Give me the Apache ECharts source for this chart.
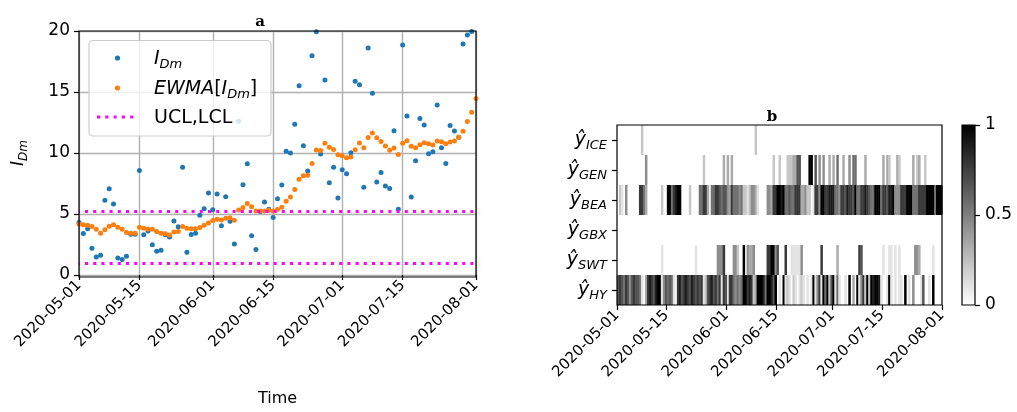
<!DOCTYPE html>
<html>
<head>
<meta charset="utf-8">
<script src="https://cdn.jsdelivr.net/npm/echarts@6/dist/echarts.min.js"></script>
<style>
    html, body { margin: 0; padding: 0; background: #fff; }
    #main { width: 1017px; height: 412px; }
</style>
</head>
<body>
<div id="main"></div>
<script>
// daily values from 2020-05-01 up to 2020-08-01
let startDate = [2020, 4, 1];

let idm = [
    4.3, 3.4, 3.8, 2.2, 1.48, 1.62, 6.12, 7.06, 5.82, 1.4,
    1.27, 1.54, 3.35, 3.35, 8.57, 3.3, 3.6, 2.48, 1.94, 2.02,
    3.3, 3.12, 4.43, 3.95, 8.84, 1.87, 3.32, 3.43, 4.9, 5.43,
    6.72, 5.35, 6.64, 4.03, 6.41, 4.4, 2.54, 12.6, 7.4, 9.12,
    3.22, 2.1, 5.2, 5.98, 5.38, 4.72, 6.25, 7.38, 10.14, 10.0,
    12.35, 15.52, 10.6, 8.52, 17.97, 19.94, 9.92, 15.99, 7.56, 8.84,
    6.31, 8.63, 8.3, 10.03, 15.88, 15.6, 7.2, 18.6, 14.9, 7.62,
    8.4, 7.3, 7.1, 11.82, 5.38, 18.86, 13.03, 6.4, 9.36, 12.82,
    12.3, 9.93, 10.1, 13.93, 10.44, 9.14, 12.25, 11.8, 11.3, 18.94,
    19.67, 19.95, 24
];

let ewma = [
    4.19, 4.11, 4.08, 3.97, 3.76, 3.43, 3.70, 4.0, 4.11, 3.92,
    3.76, 3.49, 3.43, 3.43, 3.92, 3.84, 3.78, 3.76, 3.57, 3.43,
    3.38, 3.27, 3.52, 3.57, 3.97, 3.84, 3.79, 3.79, 3.9, 4.08,
    4.27, 4.46, 4.57, 4.51, 4.65, 4.7, 4.49, 5.32, 5.54, 5.87,
    5.6, 5.25, 5.25, 5.25, 5.3, 5.25, 5.37, 5.56, 6.04, 6.4,
    7.0, 7.85, 8.14, 8.17, 9.14, 10.25, 10.2, 10.8, 10.48, 10.28,
    9.86, 9.77, 9.62, 9.67, 10.27, 10.81, 10.44, 11.28, 11.63, 11.25,
    10.94, 10.58, 10.22, 10.4, 9.88, 10.8, 11.0, 10.55, 10.43, 10.67,
    10.84, 10.75, 10.66, 10.98, 10.93, 10.76, 10.9, 10.98, 11.3, 11.79,
    12.58, 13.34, 14.47
];

let ucl = 5.19;
let lcl = 0.95;

let tickDates = ['2020-05-01', '2020-05-15', '2020-06-01', '2020-06-15', '2020-07-01', '2020-07-15', '2020-08-01'];
let yTicks = [0, 5, 10, 15, 20];
let barTicks = [0, 0.5, 1];

// heatmap rows, top to bottom; each char is one time slot, 0 = white .. 9 = black
let rowNames = ['ICE', 'GEN', 'BEA', 'GBX', 'SWT', 'HY'];
let rowICE = '0000000000 0020000000 0000000000 0000000000 0000000000 0000000000 0000000002 0000000000 0000000000 0000000000 0000000000 0000000000 0000000000 0000000000 0000000000 0000000000 000';
let rowGEN = '0000000000 0000400000 0000000000 0000000000 0002000000 0003030300 0000000000 0000000020 0200022233 6600009906 0404003030 5003004055 0000300000 0003032000 3200000030 2300200000 000';
let rowBEA = '0210400000 0775300000 0020099578 9900002000 0557730557 7656643755 5452212443 1000044377 9989556557 7733422017 7499778885 5477687769 5577876559 9957768894 4477799955 5777799995 999';
let rowGBX = '0000000000 0000000000 0000000000 0000000000 0000000000 0000000000 0000000000 0000000000 0000000000 0000000000 0000000000 0000000000 0000000000 0000000000 0000000000 0000000000 000';
let rowSWT = '0000000000 0000000000 0010000000 0000000001 0000000000 4447000044 2009043340 0000077994 6000700111 1140000000 0070000000 3000000000 0760000000 0001001101 0100000004 4300000010 000';
let rowHY  = '6765764676 6510378768 9914656510 7867876876 7671267867 5717607754 5459978723 9998599869 0109121021 0121010191 4719592691 5100109030 9147292989 9810019101 0110901040 0016001090 000';

const FONT = 'DejaVu Sans';
const BLUE = '#1f77b4', ORANGE = '#ff7f0e', MAGENTA = '#ff00ff';
const DAY = 86400000;

// layout of the three plotting areas
const gA = {left: 79, top: 31, width: 397, height: 246};
const gB = {left: 617, top: 125, width: 325, height: 180};
const gC = {left: 962, top: 125, width: 13, height: 180};

let t0 = new Date(startDate[0], startDate[1], startDate[2]).getTime();
let parseDate = function (s) {
    let p = s.split('-');
    return new Date(+p[0], +p[1] - 1, +p[2]).getTime();
};
// x axes count days since startDate
let tickDays = tickDates.map(function (s) { return Math.round((parseDate(s) - t0) / DAY); });
let dayMax = tickDays[tickDays.length - 1];
let fmtDay = function (v) {
    let d = new Date(startDate[0], startDate[1], startDate[2] + Math.round(v));
    return echarts.time.format(d, '{yyyy}-{MM}-{dd}', false);
};

// heatmap cells
let rows = [rowICE, rowGEN, rowBEA, rowGBX, rowSWT, rowHY].map(function (r) { return r.replace(/ /g, ''); });
let nCol = rows[0].length;
let cellDays = dayMax / nCol;
let heatData = [];
rows.forEach(function (r, ri) {
    for (let c = 0; c < r.length; c++) {
        let v = +r[c] / 9;
        if (v > 0) heatData.push([c * cellDays, ri, v]);
    }
});

let subRich = function (big, small) {
    return {
        b: {fontFamily: FONT, fontStyle: 'italic', fontSize: big, lineHeight: big + 6, color: '#000', verticalAlign: 'middle'},
        u: {fontFamily: FONT, fontSize: big, lineHeight: big + 6, color: '#000', verticalAlign: 'middle'},
        s: {fontFamily: FONT, fontStyle: 'italic', fontSize: small, lineHeight: small, color: '#000', verticalAlign: 'bottom'}
    };
};

let tickStyle = {show: true, length: 5, inside: false, lineStyle: {color: '#000', width: 1.2}};
let labelStyle = {fontFamily: FONT, fontSize: 17, color: '#000'};

let dayAxis = function (gridIndex, withGrid) {
    return {
        type: 'value', gridIndex: gridIndex, min: 0, max: dayMax,
        axisLine: {show: false},
        axisTick: Object.assign({customValues: tickDays}, tickStyle),
        axisLabel: Object.assign({customValues: tickDays, formatter: fmtDay, rotate: 45, margin: 8}, labelStyle, {fontSize: 15}),
        splitLine: {show: withGrid, lineStyle: {color: '#b0b0b0', width: 1.4}}
    };
};

let xA = dayAxis(0, true);
xA.name = 'Time';
xA.nameLocation = 'middle';
xA.nameGap = 116;
xA.nameTextStyle = {fontFamily: FONT, fontSize: 16, color: '#000'};

let xB = dayAxis(1, false);

let frame = function (g) {
    return {
        type: 'rect', zlevel: 1, z: 100, silent: true,
        shape: {x: g.left, y: g.top, width: g.width, height: g.height},
        style: {fill: 'none', stroke: '#000', lineWidth: 1.2}
    };
};

let option = {
    animation: false,
    backgroundColor: '#fff',
    grid: [
        Object.assign({containLabel: false}, gA),
        Object.assign({containLabel: false}, gB),
        Object.assign({containLabel: false}, gC)
    ],
    xAxis: [
        xA,
        xB,
        {type: 'category', gridIndex: 2, data: [''], show: false, boundaryGap: true}
    ],
    yAxis: [
        {
            type: 'value', gridIndex: 0, min: yTicks[0], max: yTicks[yTicks.length - 1], interval: 5,
            axisLine: {show: false},
            axisTick: tickStyle,
            axisLabel: Object.assign({margin: 9}, labelStyle),
            splitLine: {show: true, lineStyle: {color: '#b0b0b0', width: 1.4}},
            name: '{b|I}{s|Dm}', nameLocation: 'middle', nameGap: 49, nameRotate: 90,
            nameTextStyle: {rich: subRich(17, 12)}
        },
        {
            type: 'category', gridIndex: 1, data: rowNames, inverse: true,
            axisLine: {show: false},
            axisTick: Object.assign({alignWithLabel: true}, tickStyle),
            axisLabel: {
                margin: 10,
                formatter: function (v) { return '{b|ŷ}{s|' + v + '}'; },
                rich: subRich(19, 13)
            },
            splitLine: {show: false}
        },
        {
            type: 'value', gridIndex: 2, position: 'right', min: 0, max: 1, interval: 0.5,
            axisLine: {show: false},
            axisTick: tickStyle,
            axisLabel: Object.assign({margin: 10}, labelStyle),
            splitLine: {show: false}
        }
    ],
    series: [
        {
            name: 'I_Dm', type: 'scatter', xAxisIndex: 0, yAxisIndex: 0,
            data: idm.map(function (v, i) { return [i, v]; }),
            symbolSize: 5, itemStyle: {color: BLUE, opacity: 1}, clip: true, z: 2
        },
        {
            name: 'EWMA', type: 'scatter', xAxisIndex: 0, yAxisIndex: 0,
            data: ewma.map(function (v, i) { return [i, v]; }),
            symbolSize: 5, itemStyle: {color: ORANGE, opacity: 1}, clip: true, z: 3,
            markLine: {
                silent: true, symbol: 'none', label: {show: false},
                lineStyle: {color: MAGENTA, width: 3, type: [3, 5.2], cap: 'butt', dashOffset: -6, opacity: 1},
                data: [{yAxis: ucl}, {yAxis: lcl}]
            }
        },
        {
            name: 'states', type: 'custom', xAxisIndex: 1, yAxisIndex: 1,
            encode: {x: 0, y: 1},
            data: heatData,
            renderItem: function (params, api) {
                let p = api.coord([api.value(0), api.value(1)]);
                let size = api.size([cellDays, 1]);
                let g = Math.round(255 * (1 - api.value(2)));
                return {
                    type: 'rect',
                    shape: {x: p[0], y: p[1] - size[1] / 2, width: size[0] + 0.5, height: size[1]},
                    style: {fill: 'rgb(' + g + ',' + g + ',' + g + ')'}
                };
            }
        },
        {
            name: 'colorbar', type: 'bar', xAxisIndex: 2, yAxisIndex: 2,
            data: [barTicks[barTicks.length - 1]], barWidth: '100%', silent: true,
            itemStyle: {
                color: new echarts.graphic.LinearGradient(0, 0, 0, 1, [
                    {offset: 0, color: '#000'},
                    {offset: 1, color: '#fff'}
                ])
            }
        }
    ],
    graphic: [
        frame(gA),
        frame(gB),
        frame(gC),
        // titles
        {type: 'text', zlevel: 1, x: 260, y: 22, style: {text: 'a', fontFamily: 'DejaVu Serif', fontWeight: 'bold', fontSize: 15, fill: '#000', align: 'center', verticalAlign: 'middle'}},
        {type: 'text', zlevel: 1, x: 772, y: 117, style: {text: 'b', fontFamily: 'DejaVu Serif', fontWeight: 'bold', fontSize: 15, fill: '#000', align: 'center', verticalAlign: 'middle'}},
        // legend of panel a
        {type: 'rect', zlevel: 1, z: 100, shape: {x: 89, y: 40.5, width: 182, height: 95.5, r: 4}, style: {fill: 'rgba(255,255,255,0.8)', stroke: '#cccccc', lineWidth: 1.2}},
        {type: 'circle', zlevel: 1, z: 101, shape: {cx: 117.5, cy: 58, r: 2.6}, style: {fill: BLUE}},
        {type: 'circle', zlevel: 1, z: 101, shape: {cx: 117.5, cy: 88, r: 2.6}, style: {fill: ORANGE}},
        {type: 'line', zlevel: 1, z: 101, shape: {x1: 97, y1: 117, x2: 135, y2: 117}, style: {stroke: MAGENTA, lineWidth: 3, lineDash: [3, 5.3], lineCap: 'butt'}},
        {type: 'text', zlevel: 1, z: 101, x: 154, y: 59, style: {text: '{b|I}{s|Dm}', rich: subRich(19, 13), verticalAlign: 'middle'}},
        {type: 'text', zlevel: 1, z: 101, x: 154, y: 89, style: {text: '{b|EWMA}{u|[}{b|I}{s|Dm}{u|]}', rich: subRich(19, 13), verticalAlign: 'middle'}},
        {type: 'text', zlevel: 1, z: 101, x: 154, y: 118, style: {text: 'UCL,LCL', fontFamily: FONT, fontSize: 19, fill: '#000', verticalAlign: 'middle'}}
    ]
};

let chart = echarts.init(document.getElementById('main'));
chart.setOption(option);
</script>
</body>
</html>
